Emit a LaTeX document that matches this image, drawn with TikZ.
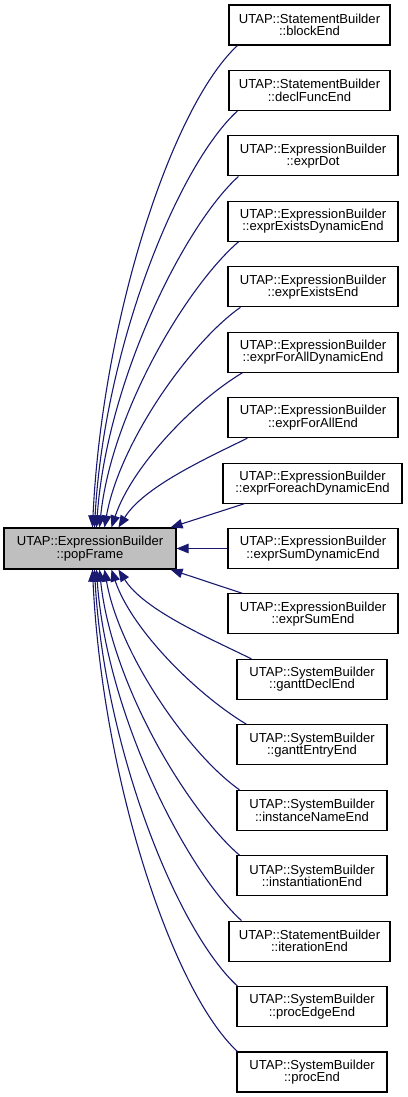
\documentclass[tikz,border=0pt]{standalone}
\usepackage{fontspec}
\setmainfont{Liberation Sans}
\usetikzlibrary{arrows.meta,calc}
\definecolor{edgeblue}{HTML}{191970}
\definecolor{maingray}{HTML}{BFBFBF}
\tikzset{
  box/.style={draw=black, line width=1.1bp, fill=white, inner sep=0pt, align=center,
    minimum height=40bp, font=\fontsize{13.1}{12.4}\selectfont},
  stmtbox/.style={box, minimum width=161bp},
  exprbox/.style={box, minimum width=170bp},
  sysbox/.style={box, minimum width=150bp},
  mainbox/.style={box, fill=maingray, minimum width=172bp, minimum height=41bp},
  edge/.style={draw=edgeblue, line width=1.1bp, -{Triangle[length=12bp,width=9.5bp,fill=edgeblue]}}
}
\begin{document}
\begin{tikzpicture}[x=1bp,y=-1bp]
\useasboundingbox (0,0) rectangle (407,1097);
\node[mainbox] (main) at (90,548.5) {UTAP::ExpressionBuilder\\::popFrame};
\node[stmtbox] (n0) at (309.5,25) {UTAP::StatementBuilder\\::blockEnd};
\node[stmtbox] (n1) at (309.5,90.4) {UTAP::StatementBuilder\\::declFuncEnd};
\node[exprbox] (n2) at (313,155.9) {UTAP::ExpressionBuilder\\::exprDot};
\node[exprbox] (n3) at (313,221.3) {UTAP::ExpressionBuilder\\::exprExistsDynamicEnd};
\node[exprbox] (n4) at (313,286.8) {UTAP::ExpressionBuilder\\::exprExistsEnd};
\node[exprbox] (n5) at (313,352.2) {UTAP::ExpressionBuilder\\::exprForAllDynamicEnd};
\node[exprbox] (n6) at (313,417.6) {UTAP::ExpressionBuilder\\::exprForAllEnd};
\node[exprbox, minimum width=179bp] (n7) at (312.5,483.1) {UTAP::ExpressionBuilder\\::exprForeachDynamicEnd};
\node[exprbox] (n8) at (313,548.5) {UTAP::ExpressionBuilder\\::exprSumDynamicEnd};
\node[exprbox] (n9) at (313,613.9) {UTAP::ExpressionBuilder\\::exprSumEnd};
\node[sysbox] (n10) at (312,679.4) {UTAP::SystemBuilder\\::ganttDeclEnd};
\node[sysbox] (n11) at (312,744.8) {UTAP::SystemBuilder\\::ganttEntryEnd};
\node[sysbox] (n12) at (312,810.3) {UTAP::SystemBuilder\\::instanceNameEnd};
\node[sysbox] (n13) at (312,875.7) {UTAP::SystemBuilder\\::instantiationEnd};
\node[stmtbox] (n14) at (309.5,941.1) {UTAP::StatementBuilder\\::iterationEnd};
\node[sysbox] (n15) at (312,1006.6) {UTAP::SystemBuilder\\::procEdgeEnd};
\node[sysbox] (n16) at (312,1072) {UTAP::SystemBuilder\\::procEnd};
% upper edges
\draw[edge] ($(n0.south west)+(9,0)$) .. controls +(-65,60) and +(10,-210) .. ($(main.north west)+(89,0)$);
\draw[edge] ($(n1.south west)+(9,0)$) .. controls +(-60,55) and +(10,-180) .. ($(main.north west)+(91,0)$);
\draw[edge] ($(n2.south west)+(11,0)$) .. controls +(-55,50) and +(10,-145) .. ($(main.north west)+(93,0)$);
\draw[edge] ($(n3.south west)+(11,0)$) .. controls +(-52,45) and +(12,-115) .. ($(main.north west)+(96,0)$);
\draw[edge] ($(n4.south west)+(13,0)$) .. controls +(-50,35) and +(15,-85) .. ($(main.north west)+(101,0)$);
\draw[edge] ($(n5.south west)+(15,0)$) .. controls +(-50,30) and +(20,-60) .. ($(main.north west)+(108,0)$);
\draw[edge] ($(n6.south west)+(20,0)$) .. controls +(-45,22) and +(25,-40) .. ($(main.north west)+(115,0)$);
\draw[edge] ($(n7.south west)+(22,0)$) -- ($(main.north east)+(-6,0)$);
\draw[edge] (n8.west) -- (main.east);
\draw[edge] ($(n9.north west)+(15,0)$) -- ($(main.south east)+(-6,0)$);
% lower edges
\draw[edge] ($(n10.north west)+(15,0)$) .. controls +(-45,-22) and +(25,40) .. ($(main.south west)+(115,0)$);
\draw[edge] ($(n11.north west)+(10,0)$) .. controls +(-50,-30) and +(20,60) .. ($(main.south west)+(108,0)$);
\draw[edge] ($(n12.north west)+(3,0)$) .. controls +(-50,-35) and +(15,85) .. ($(main.south west)+(101,0)$);
\draw[edge] ($(n13.north west)+(3,0)$) .. controls +(-52,-45) and +(12,115) .. ($(main.south west)+(96,0)$);
\draw[edge] ($(n14.north west)+(13,0)$) .. controls +(-55,-50) and +(10,145) .. ($(main.south west)+(93,0)$);
\draw[edge] ($(n15.north west)+(1,0)$) .. controls +(-60,-55) and +(10,180) .. ($(main.south west)+(91,0)$);
\draw[edge] ($(n16.north west)+(1,0)$) .. controls +(-65,-60) and +(10,210) .. ($(main.south west)+(89,0)$);
\end{tikzpicture}
\end{document}
